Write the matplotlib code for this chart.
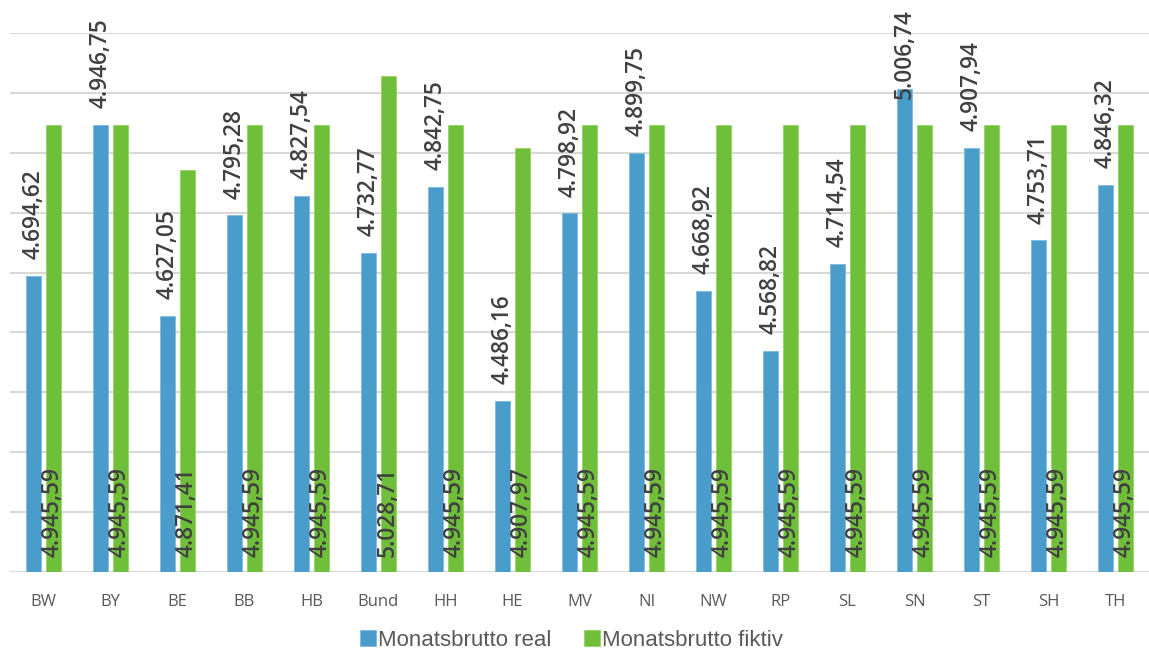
import matplotlib.pyplot as plt
import numpy as np

# Monatsbrutto je Land (real vs. fiktiv)
laender = ['BW', 'BY', 'BE', 'BB', 'HB', 'Bund', 'HH', 'HE', 'MV', 'NI',
           'NW', 'RP', 'SL', 'SN', 'ST', 'SH', 'TH']
brutto_real = [4694.62, 4946.75, 4627.05, 4795.28, 4827.54, 4732.77, 4842.75,
               4486.16, 4798.92, 4899.75, 4668.92, 4568.82, 4714.54, 5006.74,
               4907.94, 4753.71, 4846.32]
brutto_fiktiv = [4945.59, 4945.59, 4871.41, 4945.59, 4945.59, 5028.71, 4945.59,
                 4907.97, 4945.59, 4945.59, 4945.59, 4945.59, 4945.59, 4945.59,
                 4945.59, 4945.59, 4945.59]


def fmt_de(v):
    # deutsches Zahlenformat: 4.945,59
    s = f"{v:,.2f}"
    return s.replace(',', 'X').replace('.', ',').replace('X', '.')


blue = '#4A9CCA'
green = '#6FBF3A'
txt = '#404040'

fig = plt.figure(figsize=(11.49, 6.59), dpi=100)
ax = fig.add_axes([0.0087, 0.132, 0.9913, 0.818])

x = np.arange(len(laender))
w = 0.224
off = 0.142
ax.bar(x - off, brutto_real, w, color=blue, zorder=3,
       edgecolor='#7fbbe0', linewidth=0.6, label='Monatsbrutto real')
ax.bar(x + off, brutto_fiktiv, w, color=green, zorder=3,
       edgecolor='#95d466', linewidth=0.6, label='Monatsbrutto fiktiv')

ymin, ymax = 4200, 5100
ax.set_ylim(ymin, ymax)
ax.set_xlim(-0.5, len(laender) - 0.5)
ax.set_yticks(np.arange(ymin, ymax + 1, 100))
ax.yaxis.grid(True, color='#D9D9D9', linewidth=1.5, zorder=0)
ax.tick_params(axis='y', left=False, labelleft=False)
ax.tick_params(axis='x', bottom=False, labelsize=12, labelcolor='#595959', pad=12)
ax.set_xticks(x)
ax.set_xticklabels(laender, family='Open Sans')
for s in ax.spines.values():
    s.set_visible(False)

# labels above the real bars; like Excel, push down if it would leave the chart
label_cap = 4990
for xi, v in zip(x, brutto_real):
    ax.text(xi - off, min(v + 28, label_cap), fmt_de(v), rotation=90,
            ha='center', va='bottom', fontsize=16.3, color=txt,
            family='Open Sans', fontweight='semibold', clip_on=False, zorder=4)
for xi, v in zip(x, brutto_fiktiv):
    ax.text(xi + off, ymin + 25, fmt_de(v), rotation=90, ha='center',
            va='bottom', fontsize=16.3, color=txt, family='Open Sans',
            fontweight='semibold', zorder=4)

ax.legend(loc='upper center', bbox_to_anchor=(0.493, -0.078), ncol=2, frameon=False,
          prop={'family': 'Liberation Sans', 'size': 16}, labelcolor='#595959',
          handlelength=0.7, handleheight=0.7, handletextpad=0.1, columnspacing=1.5,
          borderpad=0.2)

fig.savefig('out.png', dpi=100)
